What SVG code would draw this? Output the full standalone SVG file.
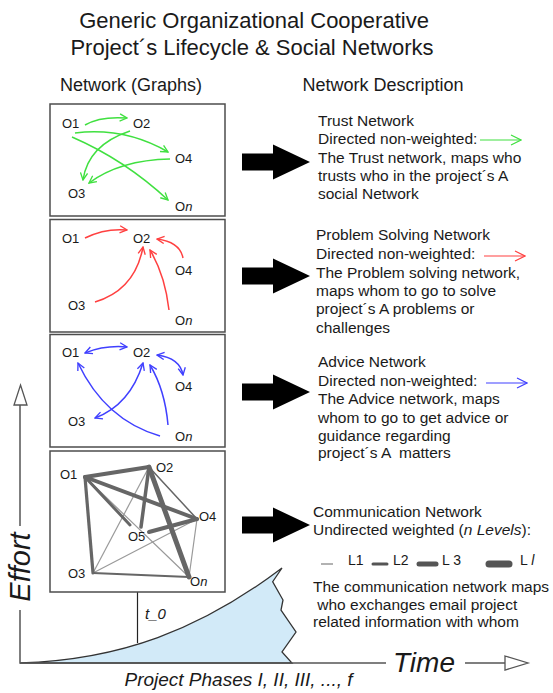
<svg xmlns="http://www.w3.org/2000/svg" width="553" height="693" viewBox="0 0 553 693">
<style>
text{font-family:"Liberation Sans",Arial,sans-serif;fill:#1a1a1a}
.t{font-size:22px}
.h{font-size:18px}
.d{font-size:15.5px}
.n{font-size:13px}
.lv{font-size:14px}
.it{font-style:italic}
.box{fill:#fff;stroke:#4d4d4d;stroke-width:1.5}
.g{fill:none;stroke:#40e040;stroke-width:1.5}
.r{fill:none;stroke:#ff4040;stroke-width:1.5}
.b{fill:none;stroke:#4040ff;stroke-width:1.5}
.w{stroke:#666;stroke-linecap:round}
.th{stroke:#9a9a9a;stroke-width:1.2}
.ax{fill:none;stroke:#555;stroke-width:1.5}
.big{fill:#000}
</style>
<defs>
<marker id="mg" viewBox="0 0 10 10" refX="9" refY="5" markerWidth="9" markerHeight="9" markerUnits="userSpaceOnUse" orient="auto-start-reverse"><path d="M1,1 L9,5 L1,9" fill="none" stroke="#40e040" stroke-width="1.5"/></marker>
<marker id="mr" viewBox="0 0 10 10" refX="9" refY="5" markerWidth="9" markerHeight="9" markerUnits="userSpaceOnUse" orient="auto-start-reverse"><path d="M1,1 L9,5 L1,9" fill="none" stroke="#ff4040" stroke-width="1.5"/></marker>
<marker id="mb" viewBox="0 0 10 10" refX="9" refY="5" markerWidth="9" markerHeight="9" markerUnits="userSpaceOnUse" orient="auto-start-reverse"><path d="M1,1 L9,5 L1,9" fill="none" stroke="#4040ff" stroke-width="1.5"/></marker>
<marker id="mgL" viewBox="0 0 12 12" refX="11" refY="6" markerWidth="12" markerHeight="12" markerUnits="userSpaceOnUse" orient="auto"><path d="M1,1 L11,6 L1,11" fill="none" stroke="#40e040" stroke-width="1.2"/></marker>
<marker id="mrL" viewBox="0 0 12 12" refX="11" refY="6" markerWidth="12" markerHeight="12" markerUnits="userSpaceOnUse" orient="auto"><path d="M1,1 L11,6 L1,11" fill="none" stroke="#ff4040" stroke-width="1.2"/></marker>
<marker id="mbL" viewBox="0 0 12 12" refX="11" refY="6" markerWidth="12" markerHeight="12" markerUnits="userSpaceOnUse" orient="auto"><path d="M1,1 L11,6 L1,11" fill="none" stroke="#4040ff" stroke-width="1.2"/></marker>
<path id="ba" d="M242,-8.5 H273 V-17.5 L310,0 L273,17.5 V8.5 H242 Z"/>
</defs>

<g id="title">
<text class="t" x="254" y="28" text-anchor="middle">Generic Organizational Cooperative</text>
<text class="t" x="252" y="55" text-anchor="middle">Project´s Lifecycle &amp; Social Networks</text>
<text class="h" x="131" y="91" text-anchor="middle">Network (Graphs)</text>
<text class="h" x="383" y="91" text-anchor="middle">Network Description</text>
</g>

<!-- Timeline / effort curve -->
<g id="effort-curve">
<path d="M20,663 C120,660 200,630 282,568 L272.7,581.7 L283,600 L281,610 L296,632 L282,652 L292,663 Z" fill="#d2eaf8" stroke="#333" stroke-width="1.3"/>
</g>
<g id="axes">
<path class="ax" d="M20,405 V526 M20,610 V663 H386"/>
<path d="M20.5,385 L27,405 L14,405 Z" fill="#fff" stroke="#555" stroke-width="1.3"/>
<text class="it" font-size="29" transform="translate(30,567) rotate(-90)" text-anchor="middle">Effort</text>
<text class="it" font-size="28" x="393" y="672">Time</text>
<path class="ax" d="M465,663 H505"/>
<path d="M505,656 L528,663 L505,670 Z" fill="#fff" stroke="#555" stroke-width="1.3"/>
<text class="it" font-size="19" x="238.5" y="686" text-anchor="middle">Project Phases I, II, III, ..., f</text>
<path d="M137.5,592 V643" stroke="#222" stroke-width="1.2"/>
<text class="it" font-size="15" x="145" y="619">t_0</text>
</g>

<!-- Panel 1: Trust -->
<g id="panel-trust">
<rect class="box" x="50" y="104" width="175" height="112"/>
<g id="trust-connectors">
<path class="g" marker-end="url(#mg)" d="M85,125 Q100,116 127,118"/>
<path class="g" marker-end="url(#mg)" d="M75,133 Q125,127 168,152"/>
<path class="g" marker-end="url(#mg)" d="M130,131 Q88,145 83,180"/>
<path class="g" marker-end="url(#mg)" d="M170,159 Q120,160 89,183"/>
<path class="g" marker-end="url(#mg)" d="M72,137 Q125,160 168,200"/>
</g>
<g id="trust-O1"><text class="n" x="62" y="128">O1</text></g>
<g id="trust-O2"><text class="n" x="133" y="128">O2</text></g>
<g id="trust-O4"><text class="n" x="175" y="163">O4</text></g>
<g id="trust-O3"><text class="n" x="68" y="198">O3</text></g>
<g id="trust-On"><text class="n" x="175" y="211">O<tspan class="it">n</tspan></text></g>
</g>

<!-- Panel 2: Problem solving -->
<g id="panel-problem">
<rect class="box" x="50" y="219.5" width="175" height="112.5"/>
<g id="problem-connectors">
<path class="r" marker-end="url(#mr)" d="M85,238 Q105,228 127,230"/>
<path class="r" marker-end="url(#mr)" d="M183,258 Q180,242 157,239"/>
<path class="r" marker-end="url(#mr)" d="M95,302 Q135,290 143,247"/>
<path class="r" marker-end="url(#mr)" d="M169,310 Q165,275 150,250"/>
</g>
<g id="problem-O1"><text class="n" x="62" y="243">O1</text></g>
<g id="problem-O2"><text class="n" x="133" y="243">O2</text></g>
<g id="problem-O4"><text class="n" x="175" y="275">O4</text></g>
<g id="problem-O3"><text class="n" x="68" y="310">O3</text></g>
<g id="problem-On"><text class="n" x="175" y="325">O<tspan class="it">n</tspan></text></g>
</g>

<!-- Panel 3: Advice -->
<g id="panel-advice">
<rect class="box" x="50" y="334.5" width="175" height="112.5"/>
<g id="advice-connectors">
<path class="b" marker-start="url(#mb)" marker-end="url(#mb)" d="M85,353 Q105,345 127,347"/>
<path class="b" marker-start="url(#mb)" marker-end="url(#mb)" d="M157,355 Q180,358 183,375"/>
<path class="b" marker-end="url(#mb)" d="M160,436 Q105,420 78,363"/>
<path class="b" marker-start="url(#mb)" marker-end="url(#mb)" d="M143,363 Q130,405 95,418"/>
<path class="b" marker-end="url(#mb)" d="M168,425 Q165,390 150,365"/>
</g>
<g id="advice-O1"><text class="n" x="62" y="357">O1</text></g>
<g id="advice-O2"><text class="n" x="133" y="357">O2</text></g>
<g id="advice-O4"><text class="n" x="175" y="391">O4</text></g>
<g id="advice-O3"><text class="n" x="68" y="426">O3</text></g>
<g id="advice-On"><text class="n" x="175" y="441">O<tspan class="it">n</tspan></text></g>
</g>

<!-- Panel 4: Communication -->
<g id="panel-communication">
<rect class="box" x="50" y="451" width="175" height="141"/>
<g id="communication-connectors">
<line class="w th" x1="149" y1="467" x2="93" y2="573"/>
<line class="w th" x1="197" y1="519" x2="93" y2="573"/>
<line class="w th" x1="85" y1="477" x2="189" y2="577"/>
<line class="w th" x1="197" y1="519" x2="189" y2="577"/>
<line class="w" stroke="#999" stroke-width="2" x1="93" y1="573" x2="189" y2="577"/>
<line class="w" stroke="#888" stroke-width="1.5" x1="149" y1="467" x2="197" y2="519"/>
<line class="w" stroke-width="3.2" x1="85" y1="477" x2="93" y2="573"/>
<line class="w" stroke-width="3" x1="85" y1="477" x2="130" y2="525"/>
<line class="w" stroke-width="4" x1="85" y1="477" x2="197" y2="519"/>
<line class="w" stroke-width="4" x1="85" y1="477" x2="149" y2="467"/>
<line class="w" stroke-width="3.5" x1="149" y1="467" x2="141" y2="527"/>
<line class="w" stroke-width="5" x1="149" y1="467" x2="189" y2="577"/>
<line class="w" stroke-width="4" x1="197" y1="519" x2="149" y2="532"/>
</g>
<g id="comm-O1"><text class="n" x="60" y="479">O1</text></g>
<g id="comm-O2"><text class="n" x="156" y="472">O2</text></g>
<g id="comm-O4"><text class="n" x="199" y="521">O4</text></g>
<g id="comm-O5"><text class="n" x="128" y="541">O5</text></g>
<g id="comm-O3"><text class="n" x="68" y="578">O3</text></g>
<g id="comm-On"><text class="n" x="190" y="586">O<tspan class="it">n</tspan></text></g>
</g>

<!-- Big arrows -->
<g id="big-arrows" class="big">
<use href="#ba" y="162"/>
<use href="#ba" y="276"/>
<use href="#ba" y="392"/>
<use href="#ba" y="525"/>
</g>

<!-- Descriptions -->
<g id="desc-trust">
<text class="d" x="318" y="126">Trust Network</text>
<text class="d" x="318" y="144">Directed non-weighted:</text>
<line x1="480" y1="140" x2="521" y2="140" stroke="#40e040" stroke-width="1.2" marker-end="url(#mgL)"/>
<text class="d" x="318" y="163">The Trust network, maps who</text>
<text class="d" x="318" y="181">trusts who in the project´s A</text>
<text class="d" x="318" y="199">social Network</text>
</g>
<g id="desc-problem">
<text class="d" x="316" y="240">Problem Solving Network</text>
<text class="d" x="316" y="259">Directed non-weighted:</text>
<line x1="484" y1="256" x2="525" y2="256" stroke="#ff4040" stroke-width="1.2" marker-end="url(#mrL)"/>
<text class="d" x="316" y="278">The Problem solving network,</text>
<text class="d" x="316" y="296">maps whom to go to solve</text>
<text class="d" x="316" y="314">project´s A problems or</text>
<text class="d" x="316" y="333">challenges</text>
</g>
<g id="desc-advice">
<text class="d" x="318" y="367">Advice Network</text>
<text class="d" x="318" y="386">Directed non-weighted:</text>
<line x1="486" y1="383" x2="527" y2="383" stroke="#4040ff" stroke-width="1.2" marker-end="url(#mbL)"/>
<text class="d" x="318" y="404">The Advice network, maps</text>
<text class="d" x="318" y="423">whom to go to get advice or</text>
<text class="d" x="318" y="441">guidance regarding</text>
<text class="d" x="318" y="458" xml:space="preserve">project´s A  matters</text>
</g>
<g id="desc-communication">
<text class="d" x="313" y="517">Communication Network</text>
<text class="d" x="313" y="535">Undirected weighted (<tspan class="it">n Levels</tspan>):</text>
<line x1="321" y1="564" x2="333" y2="564" stroke="#999" stroke-width="1.5"/>
<text class="lv" x="348" y="565">L1</text>
<line x1="373" y1="564" x2="387" y2="564" stroke="#555" stroke-width="3" stroke-linecap="round"/>
<text class="lv" x="393" y="565">L2</text>
<line x1="419" y1="564" x2="436" y2="564" stroke="#555" stroke-width="5" stroke-linecap="round"/>
<text class="lv" x="442" y="565">L 3</text>
<line x1="489" y1="564" x2="509" y2="564" stroke="#555" stroke-width="7" stroke-linecap="round"/>
<text class="lv" x="520" y="565">L <tspan class="it">l</tspan></text>
<text class="d" x="313" y="592">The communication network maps</text>
<text class="d" x="313" y="610" xml:space="preserve"> who exchanges email project</text>
<text class="d" x="313" y="627">related information with whom</text>
</g>
</svg>
